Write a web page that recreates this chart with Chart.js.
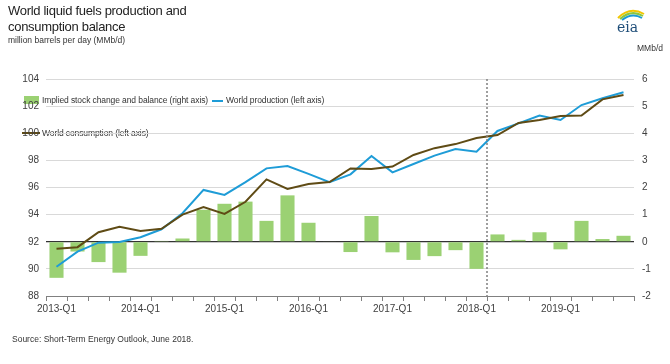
<!DOCTYPE html>
<html>
<head>
<meta charset="utf-8">
<script src="https://cdn.jsdelivr.net/npm/chart.js@4"></script>
<style>
  body { margin: 0; background: #fff; font-family: "Liberation Sans", Arial, sans-serif; }
  #wrap { position: relative; width: 670px; height: 364px; }
  #title { position: absolute; left: 8px; top: 3px; font-size: 13px; line-height: 16px; letter-spacing: -0.3px; color: #222; }
  #sub { position: absolute; left: 8px; top: 35px; font-size: 8.5px; color: #333; }
  #unit { position: absolute; left: 637px; top: 43px; font-size: 8.5px; color: #333; }
  #source { position: absolute; left: 12px; top: 334px; font-size: 8.5px; color: #333; }
  #logo { position: absolute; left: 612px; top: 6px; }
  canvas { position: absolute; left: 0; top: 0; }
</style>
</head>
<body>
<div id="wrap">
  <canvas id="chart" width="670" height="364"></canvas>
  <div id="title">World liquid fuels production and<br>consumption balance</div>
  <div id="sub">million barrels per day (MMb/d)</div>
  <div id="unit">MMb/d</div>
  <div id="source">Source: Short-Term Energy Outlook, June 2018.</div>
  <svg id="logo" width="40" height="30" viewBox="0 0 40 30">
    <path d="M6 12 Q18 0 32 8" stroke="#f2c500" stroke-width="2" fill="none"/>
    <path d="M8 13 Q19 3 31 10" stroke="#8cc63f" stroke-width="2" fill="none"/>
    <path d="M10 14 Q20 6 30 12" stroke="#1b9ad6" stroke-width="2" fill="none"/>
    <text x="5" y="26" font-family="DejaVu Serif, serif" font-size="14" fill="#1f4e79">eia</text>
  </svg>
</div>
<script>
const quarters = [
  "2013-Q1", "2013-Q2", "2013-Q3", "2013-Q4",
  "2014-Q1", "2014-Q2", "2014-Q3", "2014-Q4",
  "2015-Q1", "2015-Q2", "2015-Q3", "2015-Q4",
  "2016-Q1", "2016-Q2", "2016-Q3", "2016-Q4",
  "2017-Q1", "2017-Q2", "2017-Q3", "2017-Q4",
  "2018-Q1", "2018-Q2", "2018-Q3", "2018-Q4",
  "2019-Q1", "2019-Q2", "2019-Q3", "2019-Q4",
];

const production = [
  90.16, 91.27, 91.93, 91.98, 92.33, 92.92, 94.1, 95.82, 95.45, 96.4,
  97.41, 97.58, 97.0, 96.4, 96.97, 98.32, 97.12, 97.73, 98.35, 98.84,
  98.64, 100.17, 100.73, 101.3, 100.98, 102.08, 102.58, 103.02,
];

const consumption = [
  91.49, 91.6, 92.7, 93.1, 92.8, 92.95, 94.0, 94.55, 94.05, 94.95,
  96.6, 95.9, 96.25, 96.4, 97.4, 97.37, 97.54, 98.4, 98.9, 99.2,
  99.65, 99.87, 100.76, 100.98, 101.27, 101.3, 102.5, 102.82,
];

const stockChange = [
  -1.33, -0.36, -0.75, -1.14, -0.52, 0.03, 0.12, 1.18, 1.4, 1.48,
  0.77, 1.71, 0.7, 0.02, -0.38, 0.95, -0.39, -0.67, -0.53, -0.31,
  -1.0, 0.27, 0.07, 0.35, -0.28, 0.77, 0.1, 0.22,
];

const lastHistory = 20; // 2018-Q1, forecast starts after it

const green = "#9bd173";
const blue = "#1e9cd7";
const brown = "#5f4b15";
const tickFont = { family: "Liberation Sans", size: 10 };

// dashed line between history and forecast
const forecastLine = {
  id: "forecastLine",
  afterDatasetsDraw(chart) {
    const x = chart.scales.x;
    const area = chart.chartArea;
    const px = (x.getPixelForValue(lastHistory) + x.getPixelForValue(lastHistory + 1)) / 2;
    const ctx = chart.ctx;
    ctx.save();
    ctx.strokeStyle = "#808080";
    ctx.lineWidth = 1.5;
    ctx.setLineDash([2, 2]);
    ctx.beginPath();
    ctx.moveTo(px, area.top);
    ctx.lineTo(px, area.bottom);
    ctx.stroke();
    ctx.restore();
  },
};

// legend laid out like the original, inside the plot
const legendBox = {
  id: "legendBox",
  beforeDraw(chart) {
    const ctx = chart.ctx;
    ctx.save();
    ctx.font = "8.5px 'Liberation Sans'";
    ctx.letterSpacing = "-0.1px";
    ctx.textBaseline = "middle";
    ctx.fillStyle = green;
    ctx.fillRect(24, 96, 15, 8);
    ctx.fillStyle = "#333";
    ctx.fillText("Implied stock change and balance (right axis)", 42, 101);
    ctx.strokeStyle = blue;
    ctx.lineWidth = 2;
    ctx.beginPath();
    ctx.moveTo(212, 101);
    ctx.lineTo(223, 101);
    ctx.stroke();
    ctx.fillText("World production (left axis)", 226, 101);
    ctx.strokeStyle = brown;
    ctx.beginPath();
    ctx.moveTo(22, 133);
    ctx.lineTo(40, 133);
    ctx.stroke();
    ctx.fillText("World consumption (left axis)", 42, 134);
    ctx.restore();
  },
};

new Chart("chart", {
  data: {
    labels: quarters,
    datasets: [
      {
        type: "line",
        label: "World consumption (left axis)",
        data: consumption,
        yAxisID: "y",
        borderColor: brown,
        borderWidth: 2,
        pointRadius: 0,
        tension: 0,
        order: 1,
      },
      {
        type: "line",
        label: "World production (left axis)",
        data: production,
        yAxisID: "y",
        borderColor: blue,
        borderWidth: 2,
        pointRadius: 0,
        tension: 0,
        order: 2,
      },
      {
        type: "bar",
        label: "Implied stock change and balance (right axis)",
        data: stockChange,
        yAxisID: "y2",
        backgroundColor: green,
        categoryPercentage: 0.67,
        barPercentage: 1,
        order: 3,
      },
    ],
  },
  options: {
    responsive: false,
    animation: false,
    layout: { padding: { top: 79, left: 0, right: 0, bottom: 0 } },
    scales: {
      x: {
        afterFit: (s) => { s.height = 68; },
        grid: {
          offset: true,
          drawOnChartArea: false,
          drawTicks: true,
          tickLength: 5,
          tickColor: "#808080",
        },
        border: { color: "#808080" },
        ticks: {
          autoSkip: false,
          maxRotation: 0,
          padding: 2,
          color: "#404040",
          font: tickFont,
          callback: (v, i) => (i % 4 === 0 ? quarters[i] : ""),
        },
      },
      y: {
        position: "left",
        min: 88,
        max: 104,
        afterFit: (s) => { s.width = 46; },
        border: { display: false },
        grid: {
          drawTicks: false,
          color: (ctx) => (ctx.tick && ctx.tick.value === 92 ? "#333333" : "#d9d9d9"),
          lineWidth: (ctx) => (ctx.tick && ctx.tick.value === 92 ? 1.2 : 1),
        },
        ticks: { stepSize: 2, padding: 7, color: "#404040", font: tickFont },
      },
      y2: {
        position: "right",
        min: -2,
        max: 6,
        afterFit: (s) => { s.width = 36; },
        border: { display: false },
        grid: { drawOnChartArea: false, drawTicks: false },
        ticks: { stepSize: 1, padding: 8, color: "#404040", font: tickFont },
      },
    },
    plugins: {
      legend: { display: false },
      tooltip: { enabled: false },
    },
  },
  plugins: [legendBox, forecastLine],
});
</script>
</body>
</html>
